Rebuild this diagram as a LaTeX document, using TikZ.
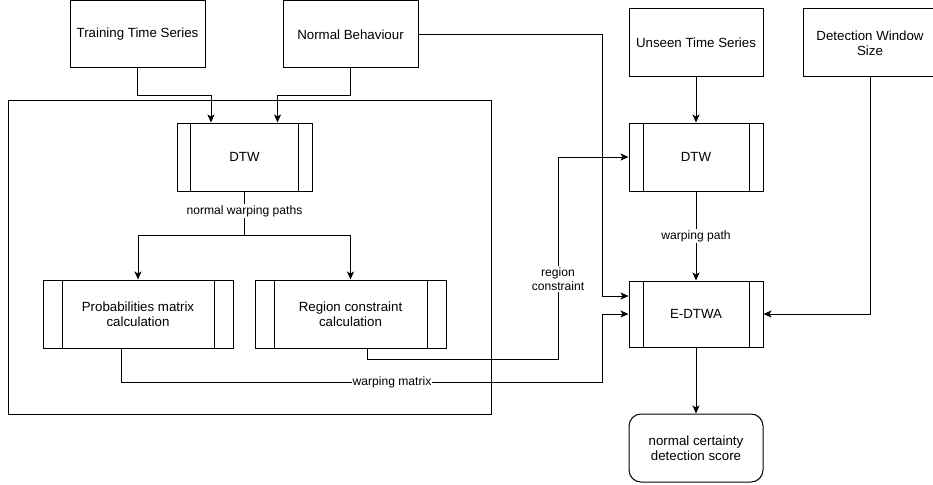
\documentclass[tikz,border=0pt]{standalone}
\usepackage{fontspec}
\setmainfont{Liberation Sans}
\usetikzlibrary{arrows.meta,calc}
\begin{document}
\begin{tikzpicture}[x=1pt,y=-1pt,
  line width=1pt,
  box/.style={draw, minimum width=135pt, minimum height=68pt, inner sep=2pt, font=\fontsize{13.3}{15.5}\selectfont, align=center},
  subproc/.style={box, path picture={
     \draw ([xshift=#1]path picture bounding box.north west) -- ([xshift=#1]path picture bounding box.south west);
     \draw ([xshift=-#1]path picture bounding box.north east) -- ([xshift=-#1]path picture bounding box.south east);}},
  arr/.style={-{Stealth[length=8pt,width=7pt,inset=2pt]}},
  lbl/.style={fill=white, inner sep=1.5pt, font=\fontsize{12.1}{14.5}\selectfont, align=center}
]
\useasboundingbox (0,0) rectangle (933,484);
% container
\node[draw, minimum width=483pt, minimum height=313pt, inner sep=0pt] (cont) at (249.5,257.5) {};
% top inputs
\node[box, minimum height=67.5pt] (tts) at (137.5,34.25) {Training Time Series};
\node[box, minimum height=67.5pt] (nb) at (350.5,34.25) {Normal Behaviour};
\node[box, minimum width=134pt] (uts) at (696,43) {Unseen Time Series};
\node[box, minimum width=134pt] (dws) at (870,43) {Detection Window\\Size};
% processes
\node[subproc=13.5pt] (dtwa) at (244.5,157) {DTW};
\node[subproc=19pt, minimum width=190pt] (prob) at (138,314) {Probabilities matrix\\calculation};
\node[subproc=19pt, minimum width=191pt] (reg) at (350.5,314) {Region constraint\\calculation};
\node[subproc=14pt, minimum width=134pt] (dtwb) at (696,157) {DTW};
\node[subproc=14pt, minimum width=134pt, minimum height=66pt] (edtwa) at (696,314) {E-DTWA};
\node[box, minimum width=134pt, rounded corners=12pt] (score) at (696,448) {normal certainty\\detection score};
% connectors
\draw[arr] (tts.south) -- (137.5,96) -| ([xshift=-33.5pt]dtwa.north);
\draw[arr] (nb.south) -- (350.5,96) -| ([xshift=33pt]dtwa.north);
\draw[arr] (nb.east) -| (602,296) -- ([yshift=18pt]edtwa.west);
\draw (dtwa.south) -- (244.5,235) coordinate (split);
\draw[arr] (split) -| (prob.north);
\draw[arr] (split) -| (reg.north);
\node[lbl] (nwp) at (244.5,211) {normal warping paths};
\draw[arr] ([xshift=17pt]reg.south) -- ++(0,11) -| (558,157) -- (dtwb.west);
\node[lbl] (rc) at (558,279) {region\\constraint};
\draw[arr] ([xshift=-17pt]prob.south) |- (602,382) |- (edtwa.west);
\node[lbl, inner sep=0.5pt] (wm) at (392,382) {warping matrix};
\draw[arr] (uts.south) -- (dtwb.north);
\draw[arr] (dtwb.south) -- (edtwa.north);
\node[lbl] (wp) at (696,236) {warping path};
\draw[arr] (dws.south) |- (edtwa.east);
\draw[arr] (edtwa.south) -- (score.north);
\end{tikzpicture}
\end{document}
